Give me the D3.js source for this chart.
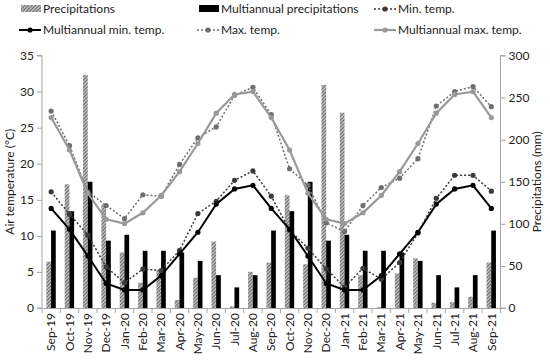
<!DOCTYPE html>
<html lang="en">
<head>
<meta charset="UTF-8">
<script src="https://cdnjs.cloudflare.com/ajax/libs/d3/7.8.5/d3.min.js"></script>
<style>
    body { margin: 0; background: #fff; }
    svg text { font-family: Lato, "Open Sans", sans-serif; fill: #222; }
</style>
</head>
<body>
<svg id="chart" width="550" height="361"></svg>
<script>
    // Data
    const months = ["Sep-19","Oct-19","Nov-19","Dec-19","Jan-20","Feb-20","Mar-20","Apr-20","May-20",
        "Jun-20","Jul-20","Aug-20","Sep-20","Oct-20","Nov-20","Dec-20","Jan-21","Feb-21","Mar-21",
        "Apr-21","May-21","Jun-21","Jul-21","Aug-21","Sep-21"];
    const precip = [55, 147, 277, 123, 66, 30, 45, 9.5, 36, 79, 2, 43, 54, 134, 52, 265, 232, 39, 1,
        41, 59, 6.3, 7, 13.4, 54];
    const multiPrecip = [92, 115, 150, 80, 87, 68, 68, 66, 56, 39, 24.5, 39, 92, 115, 150, 80, 87, 68, 68,
        66, 56, 39, 24.5, 39, 92];
    const minTemp = [16.1, 13.0, 10.1, 5.7, 3.5, 5.4, 5.2, 8.0, 13.1, 14.8, 17.7, 19.0, 15.5, 10.8, 8.3,
        5.4, 2.9, 5.5, 4.0, 6.3, 10.4, 15.2, 18.4, 18.4, 16.2];
    const multiMinTemp = [13.8, 10.9, 7.2, 3.4, 2.5, 2.5, 4.5, 7.5, 10.5, 14.4, 16.5, 17.0, 13.8, 10.9, 7.2,
        3.4, 2.5, 2.5, 4.5, 7.5, 10.5, 14.4, 16.5, 17.0, 13.8];
    const maxTemp = [27.3, 22.5, 16.1, 14.2, 12.4, 15.7, 15.5, 19.9, 23.6, 25.1, 29.5, 30.6, 26.8, 19.3, 17.0,
        11.8, 10.6, 14.2, 16.7, 18.0, 20.7, 28.0, 30.0, 30.7, 27.9];
    const multiMaxTemp = [26.4, 21.9, 15.9, 12.3, 11.7, 13.2, 15.6, 18.9, 22.8, 27.0, 29.6, 30.0, 26.4, 21.9, 15.9,
        12.3, 11.7, 13.2, 15.6, 18.9, 22.8, 27.0, 29.6, 30.0, 26.4];
    const tempTicks = [0, 5, 10, 15, 20, 25, 30, 35];
    const precipTicks = [0, 50, 100, 150, 200, 250, 300];

    const svg = d3.select("#chart");
    const plotLeft = 42, plotRight = 500.5, plotTop = 55.5, plotBottom = 308;
    const axisColor = "#a6a6a6";

    const x = d3.scaleBand().domain(months).range([plotLeft, plotRight]);
    const yT = d3.scaleLinear().domain([0, 35]).range([plotBottom, plotTop]);
    const yP = d3.scaleLinear().domain([0, 300]).range([plotBottom, plotTop]);
    const inner = d3.scaleBand().domain(["p", "m"]).range([x.bandwidth() / 2 - 4.8, x.bandwidth() / 2 + 4.6]);

    // hatch pattern for the precipitation bars
    const pat = svg.append("defs").append("pattern")
        .attr("id", "hatch")
        .attr("patternUnits", "userSpaceOnUse")
        .attr("width", 2.5).attr("height", 2.5)
        .attr("patternTransform", "rotate(45)");
    pat.append("rect").attr("width", 2.5).attr("height", 2.5).attr("fill", "#c8c8c8");
    pat.append("rect").attr("width", 1.2).attr("height", 2.5).attr("fill", "#6e6e6e");

    // bars
    svg.append("g").selectAll("rect")
        .data(months)
        .join("rect")
        .attr("x", d => x(d) + inner("p"))
        .attr("width", inner.bandwidth())
        .attr("y", (d, i) => yP(precip[i]))
        .attr("height", (d, i) => plotBottom - yP(precip[i]))
        .attr("fill", "url(#hatch)");

    svg.append("g").selectAll("rect")
        .data(months)
        .join("rect")
        .attr("x", d => x(d) + inner("m"))
        .attr("width", inner.bandwidth())
        .attr("y", (d, i) => yP(multiPrecip[i]))
        .attr("height", (d, i) => plotBottom - yP(multiPrecip[i]))
        .attr("fill", "#000");

    // axes
    const gl = svg.append("g").attr("transform", `translate(${plotLeft},0)`)
        .call(d3.axisLeft(yT).tickValues(tempTicks).tickSize(5).tickPadding(3));
    const gr = svg.append("g").attr("transform", `translate(${plotRight},0)`)
        .call(d3.axisRight(yP).tickValues(precipTicks).tickSize(5).tickPadding(3));
    const gx = svg.append("g").attr("transform", `translate(0,${plotBottom})`)
        .call(d3.axisBottom(x).tickSize(0).tickPadding(6));
    [gl, gr, gx].forEach(g => {
        g.select(".domain").attr("stroke", axisColor);
        g.selectAll(".tick line").attr("stroke", axisColor);
        g.selectAll("text").style("font-size", "12px").attr("fill", "#222");
    });
    gl.select(".domain").attr("d", `M-5,${plotTop}H0V${plotBottom}H-5`);
    gr.select(".domain").attr("d", `M5,${plotTop}H0V${plotBottom}H5`);
    gx.selectAll(".tick text")
        .attr("transform", "rotate(-90)")
        .attr("text-anchor", "end")
        .attr("x", -5).attr("y", 0).attr("dy", "0.35em");
    // category separators on the x axis
    svg.append("g").selectAll("line")
        .data(d3.range(months.length + 1))
        .join("line")
        .attr("x1", i => plotLeft + i * x.step()).attr("x2", i => plotLeft + i * x.step())
        .attr("y1", plotBottom).attr("y2", plotBottom + 5)
        .attr("stroke", axisColor);

    svg.append("text")
        .attr("transform", `translate(14,${(plotTop + plotBottom) / 2}) rotate(-90)`)
        .attr("text-anchor", "middle")
        .style("font-size", "12px")
        .text("Air temperature (°C)");
    svg.append("text")
        .attr("transform", `translate(541,${(plotTop + plotBottom) / 2}) rotate(-90)`)
        .attr("text-anchor", "middle")
        .style("font-size", "12px")
        .text("Precipitations  (mm)");

    // lines
    const cx = d => x(d) + x.bandwidth() / 2;
    const series = [
        { name: "Min. temp.", values: minTemp, color: "#3a3a3a", dash: "2,2", width: 1.5, r: 2.6 },
        { name: "Multiannual min. temp.", values: multiMinTemp, color: "#000", dash: null, width: 2, r: 2.6 },
        { name: "Max. temp.", values: maxTemp, color: "#6f6f6f", dash: "2,2", width: 1.5, r: 2.6 },
        { name: "Multiannual max. temp.", values: multiMaxTemp, color: "#999", dash: null, width: 2.2, r: 2.6 }
    ];
    series.forEach(s => {
        const line = d3.line().x((d, i) => cx(months[i])).y(d => yT(d));
        svg.append("path")
            .datum(s.values)
            .attr("fill", "none")
            .attr("stroke", s.color)
            .attr("stroke-width", s.width)
            .attr("stroke-dasharray", s.dash)
            .attr("d", line);
        svg.append("g").selectAll("circle")
            .data(s.values)
            .join("circle")
            .attr("cx", (d, i) => cx(months[i]))
            .attr("cy", d => yT(d))
            .attr("r", s.r)
            .attr("fill", s.color);
    });

    // legend
    const legend = [
        { label: "Precipitations", type: "hatch", col: 0, row: 0 },
        { label: "Multiannual precipitations", type: "bar", col: 1, row: 0 },
        { label: "Min. temp.", type: "line", s: series[0], col: 2, row: 0 },
        { label: "Multiannual min. temp.", type: "line", s: series[1], col: 0, row: 1 },
        { label: "Max. temp.", type: "line", s: series[2], col: 1, row: 1 },
        { label: "Multiannual max. temp.", type: "line", s: series[3], col: 2, row: 1 }
    ];
    const colX = [17, 195, 372], rowY = [9, 30];
    legend.forEach(l => {
        const g = svg.append("g").attr("transform", `translate(${colX[l.col]},${rowY[l.row]})`);
        if (l.type === "hatch") {
            g.append("rect").attr("x", 4).attr("y", -4).attr("width", 20).attr("height", 7).attr("fill", "url(#hatch)");
        } else if (l.type === "bar") {
            g.append("rect").attr("x", 4).attr("y", -4).attr("width", 20).attr("height", 7).attr("fill", "#000");
        } else {
            g.append("line").attr("x1", 2).attr("x2", 24).attr("y1", 0).attr("y2", 0)
                .attr("stroke", l.s.color).attr("stroke-width", l.s.width).attr("stroke-dasharray", l.s.dash);
            g.append("circle").attr("cx", 13).attr("cy", 0).attr("r", l.s.r).attr("fill", l.s.color);
        }
        g.append("text").attr("x", 26).attr("y", 0).attr("dy", "0.35em")
            .style("font-size", "12px").text(l.label);
    });
</script>
</body>
</html>
